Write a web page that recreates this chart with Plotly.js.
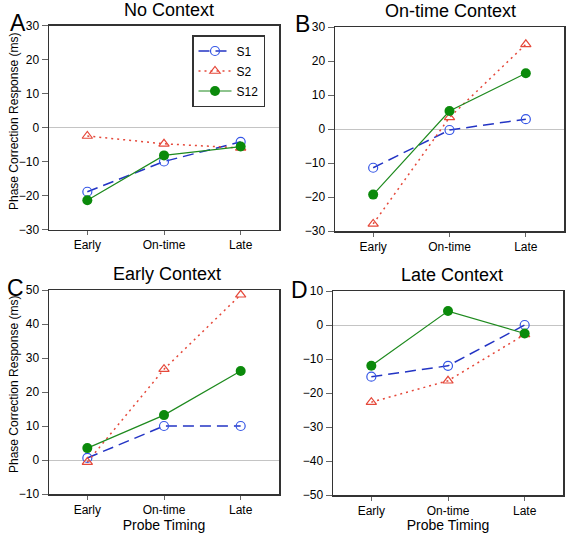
<!DOCTYPE html>
<html>
<head>
<meta charset="utf-8">
<script src="https://cdn.plot.ly/plotly-3.0.1.min.js"></script>
<style>html,body{margin:0;padding:0;background:#fff}#chart{width:568px;height:533px}</style>
</head>
<body>
<div id="chart"></div>
<script>
// ---- data ----
const categories = ['Early', 'On-time', 'Late'];
const seriesNames = ['S1', 'S2', 'S12'];
const panelTitles = ['No Context', 'On-time Context', 'Early Context', 'Late Context'];
const panelLetters = ['A', 'B', 'C', 'D'];
const yAxisTitle = 'Phase Correction Response (ms)';
const xAxisTitle = 'Probe Timing';

// A: No Context
const s1NoContext = [-18.9, -10.0, -4.2];
const s2NoContext = [-2.5, -4.8, -6.0];
const s12NoContext = [-21.4, -8.2, -5.6];
// B: On-time Context
const s1OnTime = [-11.4, -0.3, 2.9];
const s2OnTime = [-27.9, 3.4, 24.9];
const s12OnTime = [-19.3, 5.3, 16.4];
// C: Early Context
const s1Early = [0.6, 10.0, 10.0];
const s2Early = [-0.6, 26.7, 48.6];
const s12Early = [3.5, 13.2, 26.2];
// D: Late Context
const s1Late = [-15.2, -12.0, 0.0];
const s2Late = [-22.7, -16.4, -2.8];
const s12Late = [-12.0, 4.1, -2.5];

// ---- styles ----
const FONT = 'Liberation Sans, Arial, Helvetica, sans-serif';
const styles = [
  {line: {color: '#2334c4', width: 1.5, dash: '11px,6px'},
   marker: {symbol: 'circle-open', size: 9, color: '#3556e6', line: {width: 1.2, color: '#3556e6'}}},
  {line: {color: '#e5483a', width: 1.5, dash: '2px,4px'},
   marker: {symbol: 'triangle-up-open', size: 9, color: '#e5483a', line: {width: 1.2, color: '#e5483a'}}},
  {line: {color: '#1e8a1e', width: 1.2},
   marker: {symbol: 'circle', size: 10, color: '#0b8a0b', line: {width: 0}}}
];

const panels = [
  {vals: [s1NoContext, s2NoContext, s12NoContext], xa: 'x', ya: 'y'},
  {vals: [s1OnTime, s2OnTime, s12OnTime], xa: 'x2', ya: 'y2'},
  {vals: [s1Early, s2Early, s12Early], xa: 'x3', ya: 'y3'},
  {vals: [s1Late, s2Late, s12Late], xa: 'x4', ya: 'y4'}
];

const traces = [];
panels.forEach((p, pi) => {
  p.vals.forEach((v, si) => {
    traces.push({
      type: 'scatter', mode: 'lines+markers',
      x: categories, y: v, xaxis: p.xa, yaxis: p.ya,
      name: seriesNames[si], legendgroup: 'g' + si,
      showlegend: pi === 0,
      line: styles[si].line, marker: styles[si].marker,
      cliponaxis: false
    });
  });
});

const W = 568, H = 533;
function dx(a, b) { return [a / W, b / W]; }
function dy(top, bottom) { return [(H - bottom) / H, (H - top) / H]; }

function xax(domain, anchor, withTitle) {
  const o = {
    domain: domain, anchor: anchor, type: 'category', range: [-0.5, 2.5],
    showline: true, mirror: true, linecolor: '#333', linewidth: 1.5,
    ticks: 'outside', ticklen: 4, tickwidth: 1, tickcolor: '#666',
    showgrid: false, zeroline: false,
    tickfont: {family: FONT, size: 12, color: '#000'}, fixedrange: true
  };
  if (withTitle) o.title = {text: xAxisTitle, font: {family: FONT, size: 14, color: '#000'}, standoff: 3};
  return o;
}
function yax(domain, anchor, range) {
  return {
    domain: domain, anchor: anchor, range: range, dtick: 10, tick0: 0,
    showline: true, mirror: true, linecolor: '#333', linewidth: 1.5,
    ticks: 'outside', ticklen: 6, tickwidth: 1, tickcolor: '#666',
    showgrid: false, zeroline: true, zerolinecolor: '#c4c4c4', zerolinewidth: 1,
    tickfont: {family: FONT, size: 12, color: '#000'}, fixedrange: true
  };
}

const titlePos = [[168.8, 10], [450, 11.3], [167.3, 274.2], [451.5, 274.8]];
const letterPos = [[17.5, 23.3], [302.5, 23.5], [15, 288.3], [299, 290.3]];
const yTitlePos = [[14, 122], [14, 385]];
const annotations = [];
panelTitles.forEach((t, i) => {
  annotations.push({text: t, xref: 'paper', yref: 'paper', x: titlePos[i][0] / W, y: (H - titlePos[i][1]) / H,
    xanchor: 'center', yanchor: 'middle', showarrow: false, font: {family: FONT, size: 18, color: '#000'}});
});
panelLetters.forEach((t, i) => {
  annotations.push({text: t, xref: 'paper', yref: 'paper', x: letterPos[i][0] / W, y: (H - letterPos[i][1]) / H,
    xanchor: 'center', yanchor: 'middle', showarrow: false, font: {family: FONT, size: 23, color: '#000'}});
});
yTitlePos.forEach((p) => {
  annotations.push({text: yAxisTitle, xref: 'paper', yref: 'paper', x: p[0] / W, y: (H - p[1]) / H,
    xanchor: 'center', yanchor: 'middle', textangle: -90, showarrow: false,
    font: {family: FONT, size: 12, color: '#000'}});
});

const layout = {
  width: W, height: H, margin: {l: 0, r: 0, t: 0, b: 0},
  paper_bgcolor: '#fff', plot_bgcolor: '#fff',
  font: {family: FONT, size: 12, color: '#000'},
  showlegend: true,
  legend: {x: 192 / W, y: (H - 35) / H, xanchor: 'left', yanchor: 'top',
    bordercolor: '#333', borderwidth: 1.5, bgcolor: '#fff',
    font: {family: FONT, size: 12, color: '#000'}, tracegroupgap: 1, itemwidth: 33},
  xaxis: xax(dx(49, 279), 'y', false),
  yaxis: yax(dy(25.5, 229.5), 'x', [-30, 30]),
  xaxis2: xax(dx(335, 564), 'y2', false),
  yaxis2: yax(dy(27, 231), 'x2', [-30, 30]),
  xaxis3: xax(dx(49, 279), 'y3', true),
  yaxis3: yax(dy(290, 494), 'x3', [-10, 50]),
  xaxis4: xax(dx(333, 563), 'y4', true),
  yaxis4: yax(dy(291, 495), 'x4', [-50, 10]),
  annotations: annotations
};

Plotly.newPlot('chart', traces, layout, {staticPlot: true, displayModeBar: false});
</script>
</body>
</html>
